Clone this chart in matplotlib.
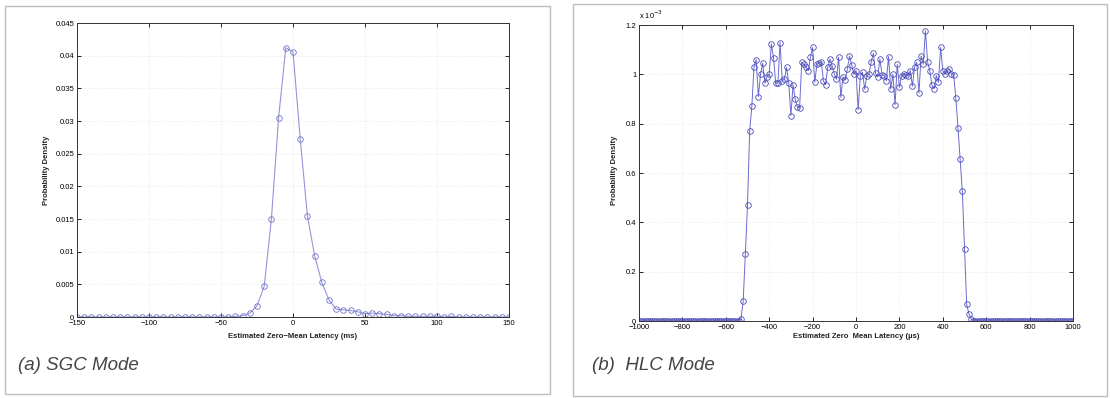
import matplotlib.pyplot as plt
import matplotlib.patches as patches
from matplotlib.ticker import FuncFormatter
import numpy as np

plt.rcParams['font.family'] = ['Liberation Sans', 'DejaVu Sans']

# (a) SGC mode: latency bins (ms) and probability density
sgc_x = list(range(-150, 151, 5))
sgc_y = [0.0] * 22 + [
    0.0001, 0.0002, 0.0006, 0.0017, 0.0047, 0.0150, 0.0305, 0.0412, 0.0406, 0.0273,
    0.0155, 0.0094, 0.0053, 0.0026, 0.0012, 0.0011, 0.0010, 0.0008, 0.0005, 0.0006,
    0.0005, 0.0004, 0.0002, 0.0002, 0.0001, 0.0001,
] + [0.0001, 0.0001, 0.0001, 0.0, 0.0001, 0.0, 0.0, 0.0, 0.0, 0.0, 0.0, 0.0, 0.0]

# (b) HLC mode: latency bins (us) and density in units of 1e-3
hlc_x = list(range(-1000, 1001, 10))
hlc_y = [0.0] * 47 + [
    0.01, 0.08, 0.27, 0.47, 0.77, 0.87, 1.03, 1.06, 0.91, 1.00,
    1.045, 0.964, 0.99, 1.00, 1.123, 1.066, 0.964, 0.964, 1.129, 0.974,
    0.98, 1.028, 0.965, 0.833, 0.958, 0.899, 0.867, 0.864, 1.049, 1.04,
    1.03, 1.015, 1.069, 1.109, 0.968, 1.042, 1.045, 1.051, 0.973, 0.958,
    1.03, 1.062, 1.035, 1.001, 0.98, 1.069, 0.907, 0.99, 0.977, 1.021,
    1.075, 1.039, 1.00, 1.015, 0.857, 0.994, 1.008, 0.94, 0.994, 1.00,
    1.051, 1.085, 1.004, 0.99, 1.062, 0.998, 0.994, 0.974, 1.072, 0.94,
    1.00, 0.877, 1.04, 0.947, 0.994, 1.001, 0.998, 0.994, 1.015, 0.952,
    1.03, 1.049, 0.924, 1.075, 1.041, 1.177, 1.049, 1.015, 0.955, 0.942,
    0.995, 0.968, 1.109, 1.015, 1.001, 1.015, 1.022, 1.001, 0.999, 0.904,
    0.783, 0.655, 0.526, 0.293, 0.068, 0.03, 0.01,
] + [0.0] * 47

W, H = 1110, 398
fig = plt.figure(figsize=(W / 100, H / 100), dpi=100)

# panel frames
for x0, y0, x1, y1 in [(5, 6, 550, 394), (573, 4, 1107, 396)]:
    fig.add_artist(patches.Rectangle((x0 / W, 1 - y1 / H), (x1 - x0) / W, (y1 - y0) / H,
                                     transform=fig.transFigure, fill=False,
                                     edgecolor='#bdbdbd', linewidth=1.0))

fmt = FuncFormatter(lambda v, p: ('%g' % v).replace('-', '\u2212'))


def style(ax):
    ax.tick_params(direction='in', length=3, width=0.6, labelsize=5.5,
                   top=True, right=True, pad=2)
    ax.grid(True, color='#e6e6e6', linestyle=':', linewidth=0.6)
    for s in ax.spines.values():
        s.set_linewidth(0.7)
        s.set_color('#333333')
    ax.xaxis.set_major_formatter(fmt)
    ax.yaxis.set_major_formatter(fmt)


ax1 = fig.add_axes([77 / W, 1 - 317 / H, 432 / W, 294 / H])
ax1.plot(sgc_x, sgc_y, color='#9494da', linewidth=0.8, marker='o', markersize=4.0,
         markerfacecolor='none', markeredgecolor='#7272c8', markeredgewidth=0.6)
ax1.set_xlim(-150, 150)
ax1.set_ylim(0, 0.045)
ax1.set_xticks([-150, -100, -50, 0, 50, 100, 150])
ax1.set_yticks(np.arange(0, 0.0451, 0.005))
style(ax1)

ax2 = fig.add_axes([639 / W, 1 - 321 / H, 434 / W, 296 / H])
ax2.plot(hlc_x, hlc_y, color='#6a6ad0', linewidth=0.7, marker='o', markersize=4.0,
         markerfacecolor='none', markeredgecolor='#4a4ab8', markeredgewidth=0.6)
ax2.set_xlim(-1000, 1000)
ax2.set_ylim(0, 1.2)
ax2.set_xticks(range(-1000, 1001, 200))
ax2.set_yticks([0, 0.2, 0.4, 0.6, 0.8, 1.0, 1.2])
style(ax2)
ax2.text(0.0, 1.015, r'x 10$^{-3}$', transform=ax2.transAxes, fontsize=5.5,
         ha='left', va='bottom')

# axis labels
fig.text(293 / W, 1 - 336 / H, 'Estimated Zero\u2212Mean Latency (ms)', fontsize=5.5,
         weight='bold', ha='center', va='center', color='#222222')
fig.text(47 / W, 1 - 170 / H, 'Probability Density', fontsize=5.5, weight='bold',
         rotation=90, ha='center', va='center', color='#222222')
fig.text(856 / W, 1 - 337 / H, 'Estimated Zero  Mean Latency (\u00b5s)', fontsize=5.5,
         weight='bold', ha='center', va='center', color='#222222')
fig.text(615 / W, 1 - 170 / H, 'Probability Density', fontsize=5.5, weight='bold',
         rotation=90, ha='center', va='center', color='#222222')

# captions
fig.text(18 / W, 1 - 366 / H, '(a) SGC Mode', fontsize=13.5, style='italic',
         ha='left', va='center', color='#444444')
fig.text(592 / W, 1 - 366 / H, '(b)  HLC Mode', fontsize=13.5, style='italic',
         ha='left', va='center', color='#444444')

fig.savefig('out.png', dpi=100)
